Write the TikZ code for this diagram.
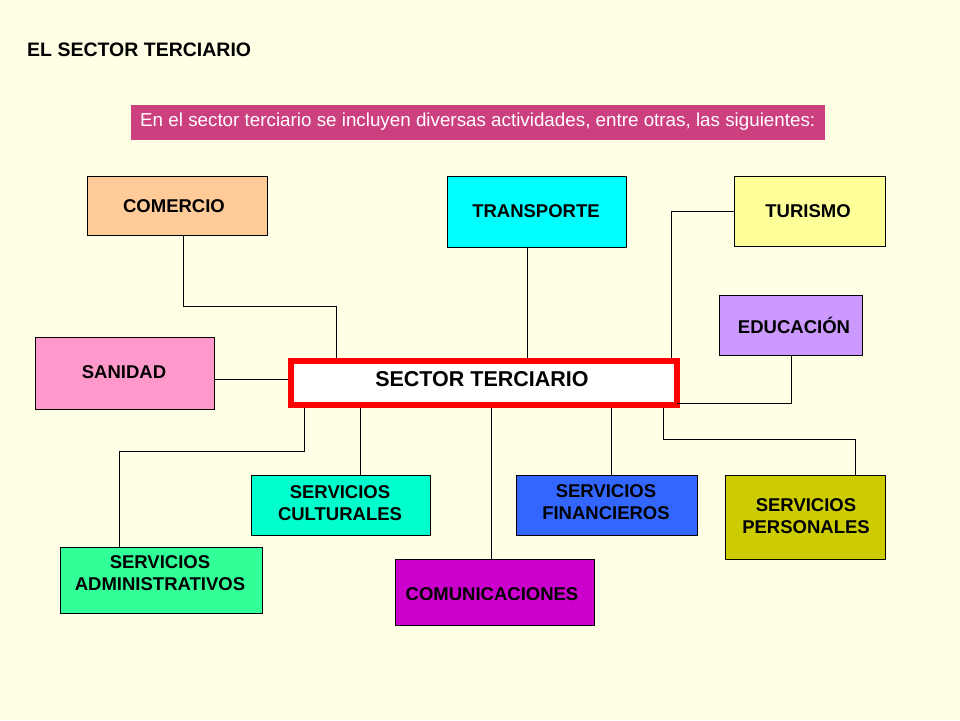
\documentclass[tikz,border=0pt]{standalone}
\usepackage{fontspec}
\setmainfont{Liberation Sans}
\definecolor{bg}{RGB}{255,255,229}
\definecolor{ban}{RGB}{204,64,128}
\definecolor{ccom}{RGB}{255,204,153}
\definecolor{ctra}{RGB}{0,255,255}
\definecolor{ctur}{RGB}{255,255,153}
\definecolor{cedu}{RGB}{204,153,255}
\definecolor{csan}{RGB}{255,153,204}
\definecolor{ccul}{RGB}{0,255,204}
\definecolor{cfin}{RGB}{51,102,255}
\definecolor{cper}{RGB}{204,204,0}
\definecolor{cadm}{RGB}{51,255,153}
\definecolor{ccmn}{RGB}{204,0,204}
\begin{document}
\begin{tikzpicture}[x=1pt,y=-1pt,
  tx/.style={font=\fontsize{18.5}{22}\selectfont\bfseries,align=center},
  bx/.style={draw=black,line width=0.8pt},
  ln/.style={draw=black,line width=0.8pt}]
\fill[bg] (0,0) rectangle (960,720);
\useasboundingbox (0,0) rectangle (960,720);
\node[anchor=west,font=\fontsize{19.5}{22}\selectfont\bfseries,inner sep=0pt] (title) at (27,50) {EL SECTOR TERCIARIO};
\fill[ban] (131,105) rectangle (825,140);
\node[anchor=west,text=white,font=\fontsize{18.8}{22}\selectfont,inner sep=0pt] (banner) at (140,122) {En el sector terciario se incluyen diversas actividades, entre otras, las siguientes:};
\path[bx,fill=ccom] (87,176) rectangle (267,235);
\node[tx] (com) at (174,206) {COMERCIO};
\path[bx,fill=ctra] (447,176) rectangle (626,247);
\node[tx] (tra) at (536,211) {TRANSPORTE};
\path[bx,fill=ctur] (734,176) rectangle (885,246);
\node[tx] (tur) at (808,211) {TURISMO};
\path[bx,fill=cedu] (719,295) rectangle (862,355);
\node[tx] (edu) at (794,325) {EDUCACIÓN};
\path[bx,fill=csan] (35,337) rectangle (214,409);
\node[tx] (san) at (124,372) {SANIDAD};
\path[draw=red,line width=6pt,fill=white] (291,361) rectangle (677,405);
\node[font=\fontsize{21.5}{25}\selectfont\bfseries] (sec) at (482,379) {SECTOR TERCIARIO};
\path[bx,fill=ccul] (251,475) rectangle (430,535);
\node[tx] (cul) at (340,503) {SERVICIOS\\CULTURALES};
\path[bx,fill=cfin] (516,475) rectangle (697,535);
\node[tx] (fin) at (606,502) {SERVICIOS\\FINANCIEROS};
\path[bx,fill=cper] (725,475) rectangle (885,559);
\node[tx] (per) at (806,516) {SERVICIOS\\PERSONALES};
\path[bx,fill=cadm] (60,547) rectangle (262,613);
\node[tx] (adm) at (160,573) {SERVICIOS\\ADMINISTRATIVOS};
\path[bx,fill=ccmn] (395,559) rectangle (594,625);
\node[tx] (cmn) at (492,594) {COMUNICACIONES};
\coordinate (a1) at (183,235); \coordinate (a2) at (336,358);
\draw[ln] (a1) |- (336,306) -- (a2);
\draw[ln] (527,247) -- (527,358);
\draw[ln] (734,211) -| (671,358);
\draw[ln] (791,355) |- (677,403);
\draw[ln] (214,379) -- (288,379);
\draw[ln] (304,408) |- (119,451) -- (119,547);
\draw[ln] (360,408) -- (360,475);
\draw[ln] (491,408) -- (491,559);
\draw[ln] (611,408) -- (611,475);
\draw[ln] (663,408) |- (855,439) -- (855,475);
\end{tikzpicture}
\end{document}
